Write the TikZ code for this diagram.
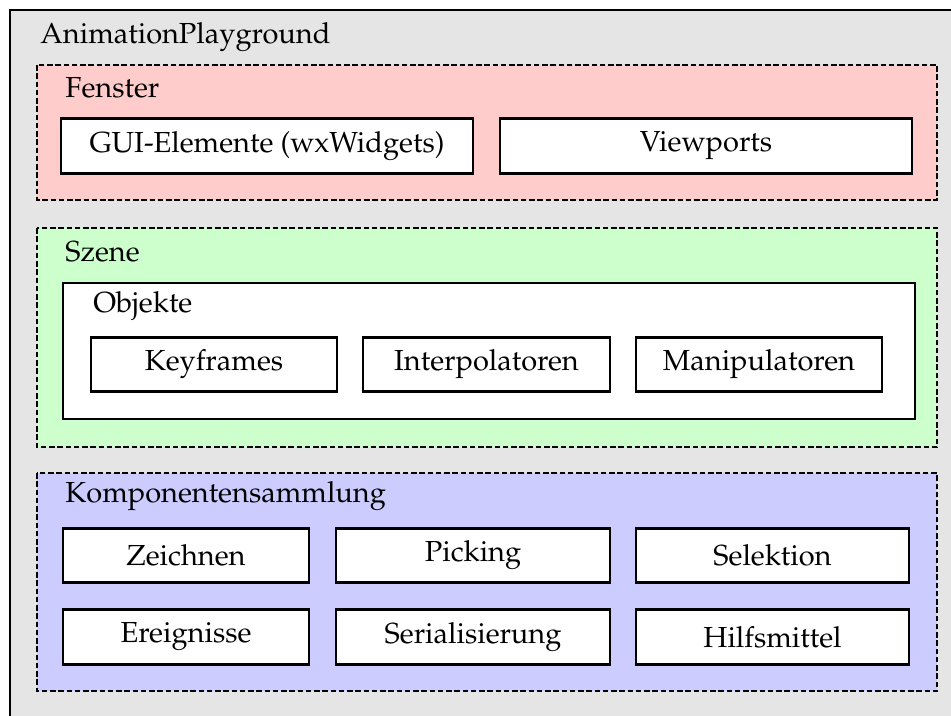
\documentclass[tikz,border=0pt,11pt]{standalone}
\usepackage[T1]{fontenc}
\usepackage{mathpazo}
\usepackage{tikz}
\usetikzlibrary{positioning}

\definecolor{outerbg}{HTML}{E5E5E5}
\definecolor{fensterbg}{HTML}{FFCCCC}
\definecolor{szenebg}{HTML}{CCFFCC}
\definecolor{kompbg}{HTML}{CCCCFF}

\begin{document}
\begin{tikzpicture}[x=0.4pt, y=-0.4pt, line width=1.1pt,
    font=\fontsize{11.6pt}{14pt}\selectfont,
    group/.style={draw, line width=1.15pt, dash pattern=on 2.2pt off 1.1pt},
    box/.style={draw, fill=white, inner sep=0pt, minimum height=21.8pt},
    grouplabel/.style={anchor=base west, inner sep=0pt}]

    \useasboundingbox (0,0) rectangle (951,715);
    \clip (0,0) rectangle (951,715);

    % --- Outer frame (runs past the right and bottom edge) ---
    \draw[fill=outerbg] (10,10) rectangle (990,760);
    \node[grouplabel] (app) at (39,43) {AnimationPlayground};

    % --- Fenster ---
    \draw[group, fill=fensterbg] (37,65) rectangle (937,200);
    \node[grouplabel] (fenster) at (64,97) {Fenster};
    \node[box, minimum width=164.8pt] (gui) at (267,146) {GUI-Elemente (wxWidgets)};
    \node[box, minimum width=164.8pt] (viewports) at (706,146) {Viewports};

    % --- Szene with the Objekte box inside ---
    \draw[group, fill=szenebg] (37,228) rectangle (937,447);
    \node[grouplabel] (szene) at (64,261) {Szene};
    \draw[fill=white] (63,283) rectangle (915,419);
    \node[grouplabel] (objekte) at (92,312) {Objekte};
    \node[box, minimum width=98.4pt] (keyframes) at (214,364.5) {Keyframes};
    \node[box, minimum width=98.8pt] (interp) at (486.5,364.5) {Interpolatoren};
    \node[box, minimum width=98.4pt] (manip) at (759,364.5) {Manipulatoren};

    % --- Komponentensammlung ---
    \draw[group, fill=kompbg] (37,473) rectangle (937,691);
    \node[grouplabel] (komp) at (64,502) {Komponentensammlung};
    % first row
    \node[box, minimum width=98.4pt] (zeichnen) at (186,555.5) {Zeichnen};
    \node[box, minimum width=109.6pt] (picking) at (473,555.5) {Picking};
    \node[box, minimum width=109.2pt] (selektion) at (772.5,555.5) {Selektion};
    % second row
    \node[box, minimum width=98.4pt] (ereignisse) at (186,637) {Ereignisse};
    \node[box, minimum width=109.6pt] (serial) at (473,637) {Serialisierung};
    \node[box, minimum width=109.2pt] (hilfs) at (772.5,637) {Hilfsmittel};

\end{tikzpicture}
\end{document}
